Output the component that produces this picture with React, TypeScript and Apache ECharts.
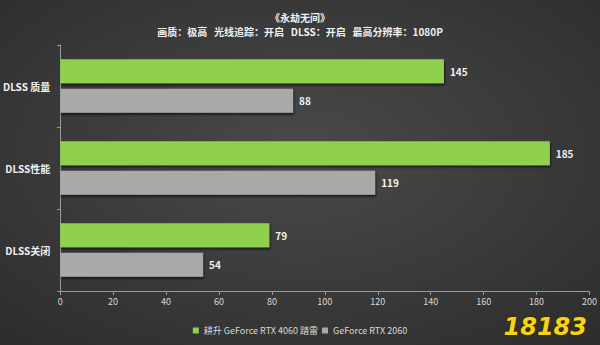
import React, { useEffect, useRef } from "react";
import * as echarts from "echarts";

const categories = ["DLSS 质量", "DLSS性能", "DLSS关闭"];
const seriesNames = ["耕升 GeForce RTX 4060 踏雷", "GeForce RTX 2060"];
const rtx4060 = [145, 185, 79];
const rtx2060 = [88, 119, 54];
const xTicks = [0, 20, 40, 60, 80, 100, 120, 140, 160, 180, 200];

export default function App() {
  const ref = useRef<HTMLDivElement>(null);
  useEffect(() => {
    if (!ref.current) return;
    const chart = echarts.init(ref.current, undefined, { renderer: "svg" });
    const labelStyle = {
      show: true,
      position: "right",
      distance: 6,
      color: "#f2f2f2",
      fontSize: 10,
      fontWeight: "bold",
      fontFamily: "Noto Sans CJK SC",
    };
    chart.setOption({
      animation: false,
      backgroundColor: {
        type: "radial",
        x: 0.5,
        y: 0.45,
        r: 0.75,
        colorStops: [
          { offset: 0, color: "#4a4a4a" },
          { offset: 1, color: "#2c2c2c" },
        ],
      },
      title: [
        {
          text: "《永劫无间》",
          left: "center",
          top: 7,
          textStyle: { color: "#f0f0f0", fontSize: 10, fontWeight: "bold", fontFamily: "Noto Sans CJK SC" },
        },
        {
          text: "画质：极高   光线追踪：开启   DLSS：开启   最高分辨率：1080P",
          left: "center",
          top: 21,
          textStyle: { color: "#f0f0f0", fontSize: 10, fontWeight: "bold", fontFamily: "Noto Sans CJK SC" },
        },
      ],
      legend: {
        bottom: 5,
        left: "center",
        itemWidth: 6,
        itemHeight: 6,
        itemGap: 4,
        icon: "rect",
        textStyle: { color: "#d8d8d8", fontSize: 9, fontFamily: "Noto Sans CJK SC" },
        data: seriesNames,
      },
      grid: { left: 60, right: 9, top: 45, bottom: 54 },
      xAxis: {
        type: "value",
        min: xTicks[0],
        max: xTicks[xTicks.length - 1],
        interval: 20,
        axisLine: { show: true, lineStyle: { color: "#9a9a9a" } },
        axisTick: { show: true, length: 4, lineStyle: { color: "#9a9a9a" } },
        splitLine: { show: false },
        axisLabel: { color: "#d8d8d8", fontSize: 9, margin: 6, fontFamily: "Noto Sans CJK SC" },
      },
      yAxis: {
        type: "category",
        inverse: true,
        data: categories,
        axisLine: { show: true, lineStyle: { color: "#9a9a9a" } },
        axisTick: { show: true, length: 3, lineStyle: { color: "#9a9a9a" } },
        axisLabel: { color: "#f0f0f0", fontSize: 10, fontWeight: "bold", margin: 10, fontFamily: "Noto Sans CJK SC" },
      },
      series: [
        {
          name: seriesNames[0],
          type: "bar",
          data: rtx4060,
          barWidth: 24,
          barGap: "22%",
          itemStyle: { color: "#8fd14f", shadowColor: "rgba(0,0,0,0.6)", shadowOffsetY: 2, shadowOffsetX: 1, shadowBlur: 2 },
          label: labelStyle,
        },
        {
          name: seriesNames[1],
          type: "bar",
          data: rtx2060,
          barWidth: 24,
          itemStyle: { color: "#a9a9a9", shadowColor: "rgba(0,0,0,0.6)", shadowOffsetY: 2, shadowOffsetX: 1, shadowBlur: 2 },
          label: labelStyle,
        },
      ],
      graphic: [
        {
          type: "text",
          right: 12,
          bottom: 5,
          z: 100,
          style: {
            text: "18183",
            fill: "#f5d418",
            stroke: "#3a2a10",
            lineWidth: 2,
            fontSize: 24,
            fontWeight: "bold",
            fontStyle: "italic",
            fontFamily: "DejaVu Sans",
          },
        },
      ],
    });
    return () => chart.dispose();
  }, []);
  return <div ref={ref} style={{ width: 600, height: 345, position: "absolute", left: 0, top: 0 }} />;
}
